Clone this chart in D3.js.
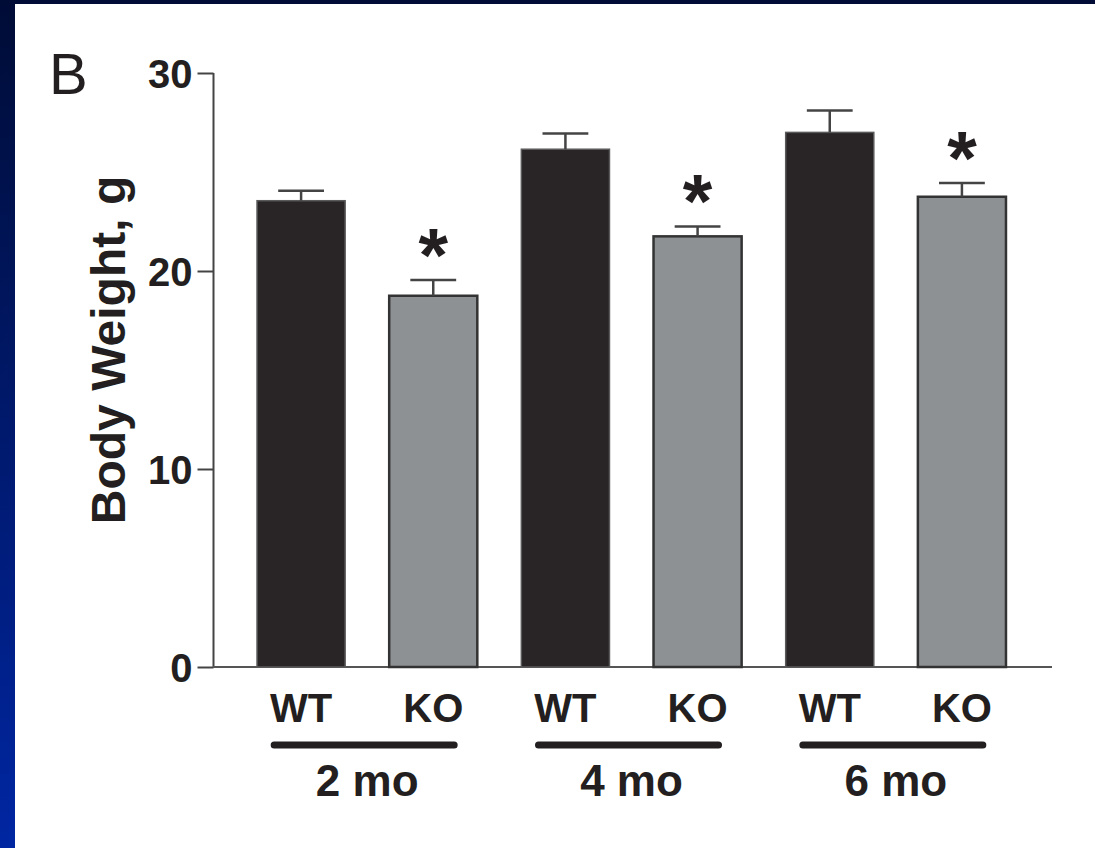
<!DOCTYPE html>
<html><head><meta charset="utf-8">
<script src="https://cdn.jsdelivr.net/npm/d3@7"></script>
<style>html,body{margin:0;padding:0;background:#fff;}svg{display:block;}</style>
</head><body>
<script>
const categories = ["WT", "KO", "WT", "KO", "WT", "KO"];
const groups = ["2 mo", "4 mo", "6 mo"];
const means = [23.55, 18.75, 26.15, 21.75, 27.0, 23.75];
const errors = [0.5, 0.8, 0.8, 0.5, 1.1, 0.7];
const significant = [false, true, false, true, false, true];
const yTicks = [0, 10, 20, 30];
const yLabel = "Body Weight, g";
const panelLabel = "B";

const W = 1095, H = 848;
const svg = d3.select("body").append("svg").attr("width", W).attr("height", H);
const defs = svg.append("defs");
const grad = defs.append("linearGradient").attr("id","side").attr("x1",0).attr("y1",0).attr("x2",0).attr("y2",1);
grad.append("stop").attr("offset","0%").attr("stop-color","#000c36");
grad.append("stop").attr("offset","100%").attr("stop-color","#0026a2");

svg.append("rect").attr("width",W).attr("height",H).attr("fill","#fff");
svg.append("rect").attr("x",0).attr("y",0).attr("width",15).attr("height",H).attr("fill","url(#side)");
svg.append("rect").attr("x",0).attr("y",0).attr("width",W).attr("height",4).attr("fill","#000c36");

const y = d3.scaleLinear().domain([0, 30]).range([667, 73]);
const idx = d3.range(categories.length);
const x = d3.scaleBand().domain(idx).range([235, 1028]).paddingInner(1/3).paddingOuter(1/6);

const font = "Liberation Sans, Arial, Helvetica, sans-serif";
const ink = "#231f20";

// y axis
const yAxis = svg.append("g").attr("transform","translate(213.5,0)")
  .call(d3.axisLeft(y).tickValues(yTicks).tickSize(16).tickPadding(5).tickFormat(d3.format("d")));
yAxis.select(".domain").remove();
yAxis.selectAll(".tick line").attr("stroke","#444").attr("stroke-width",2);
yAxis.selectAll(".tick text").attr("font-family",font).attr("font-weight","bold").attr("font-size",40).attr("fill",ink).attr("dy","0.36em");
svg.append("line").attr("x1",213.5).attr("x2",213.5).attr("y1",y(30)).attr("y2",y(0)+1).attr("stroke","#444").attr("stroke-width",2);
// x axis line
svg.append("line").attr("x1",213).attr("x2",1052).attr("y1",y(0)).attr("y2",y(0)).attr("stroke","#555").attr("stroke-width",2);

// bars
svg.selectAll("rect.bar").data(idx).enter().append("rect").attr("class","bar")
  .attr("x", i => x(i)).attr("width", x.bandwidth())
  .attr("y", i => y(means[i])).attr("height", i => y(0) - y(means[i]))
  .attr("fill", i => categories[i] === "WT" ? "#292526" : "#8e9193")
  .attr("stroke", i => categories[i] === "WT" ? "#5a5a5a" : "#333")
  .attr("stroke-width", i => categories[i] === "WT" ? 1.5 : 2.5);

// error bars
const cap = x.bandwidth() * 0.52;
idx.forEach(i => {
  const cx = x(i) + x.bandwidth()/2;
  svg.append("line").attr("x1",cx).attr("x2",cx).attr("y1",y(means[i])).attr("y2",y(means[i]+errors[i])).attr("stroke","#444").attr("stroke-width",2.5);
  svg.append("line").attr("x1",cx-cap/2).attr("x2",cx+cap/2).attr("y1",y(means[i]+errors[i])).attr("y2",y(means[i]+errors[i])).attr("stroke","#444").attr("stroke-width",2.5);
  if (significant[i]) {
    svg.append("text").attr("x",cx).attr("y",y(means[i]+errors[i]) + 1).attr("text-anchor","middle")
      .attr("font-family",font).attr("font-weight","bold").attr("font-size",76).attr("fill",ink)
      .text("*");
  }
  svg.append("text").attr("x",cx).attr("y",722).attr("text-anchor","middle")
    .attr("font-family",font).attr("font-weight","bold").attr("font-size",40).attr("fill",ink).text(categories[i]);
});

// group lines and labels
groups.forEach((g, j) => {
  const c = (x(2*j) + x(2*j+1) + x.bandwidth()) / 2 - 3;
  svg.append("line").attr("x1",c-90).attr("x2",c+90).attr("y1",745).attr("y2",745)
    .attr("stroke","#231f20").attr("stroke-width",7).attr("stroke-linecap","round");
  svg.append("text").attr("x",c+3).attr("y",796).attr("text-anchor","middle")
    .attr("font-family",font).attr("font-weight","bold").attr("font-size",44).attr("fill",ink).text(g);
});

// y label
svg.append("text").attr("transform","translate(125,350) rotate(-90)").attr("text-anchor","middle")
  .attr("font-family",font).attr("font-weight","bold").attr("font-size",48).attr("fill",ink).text(yLabel);
// panel label
svg.append("text").attr("x",49).attr("y",94).attr("font-family",font).attr("font-size",58).attr("fill",ink).text(panelLabel);
</script>
</body></html>
